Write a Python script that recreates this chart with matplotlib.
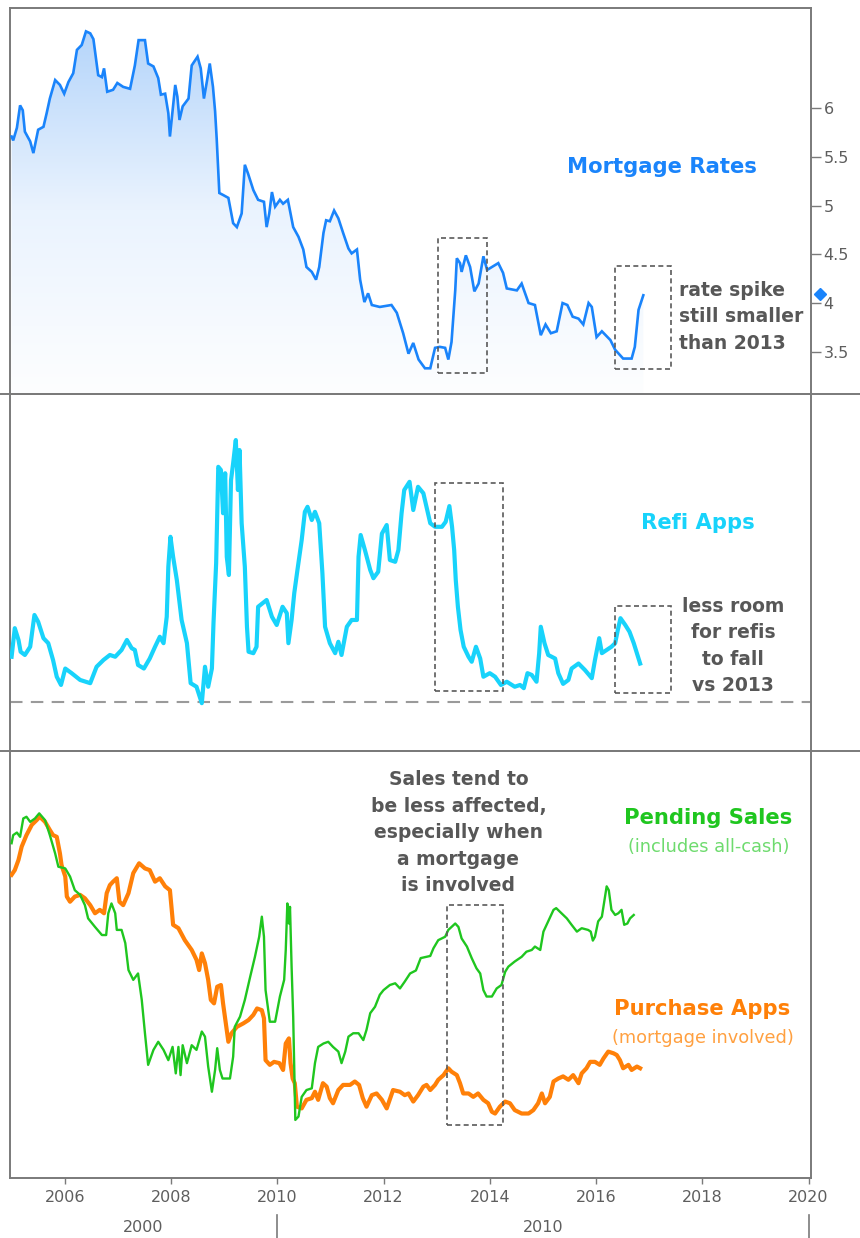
import numpy as np
import matplotlib
matplotlib.use("Agg")
import matplotlib.pyplot as plt
from matplotlib.colors import LinearSegmentedColormap
from matplotlib.patches import Rectangle
from matplotlib.lines import Line2D
import matplotlib.transforms as mtransforms

# ---------------- data ----------------
rate_years = [2005.00, 2005.03, 2005.10, 2005.16, 2005.21, 2005.25, 2005.35, 2005.41, 2005.50, 2005.60,
              2005.66, 2005.72, 2005.82, 2005.91, 2005.99, 2006.07, 2006.16, 2006.23, 2006.32, 2006.40,
              2006.48, 2006.54, 2006.63, 2006.70, 2006.74, 2006.80, 2006.91, 2006.99, 2007.10, 2007.23,
              2007.32, 2007.39, 2007.51, 2007.57, 2007.67, 2007.76, 2007.81, 2007.89, 2007.95, 2007.98,
              2008.03, 2008.08, 2008.12, 2008.16, 2008.22, 2008.33, 2008.39, 2008.50, 2008.56, 2008.62,
              2008.68, 2008.73, 2008.79, 2008.83, 2008.86, 2008.91, 2008.98, 2009.08, 2009.17, 2009.24,
              2009.33, 2009.39, 2009.45, 2009.55, 2009.64, 2009.75, 2009.80, 2009.85, 2009.90, 2009.96,
              2010.05, 2010.11, 2010.20, 2010.30, 2010.40, 2010.49, 2010.55, 2010.65, 2010.73, 2010.79,
              2010.87, 2010.92, 2010.99, 2011.07, 2011.15, 2011.24, 2011.34, 2011.40, 2011.50, 2011.56,
              2011.64, 2011.71, 2011.78, 2011.93, 2012.15, 2012.25, 2012.37, 2012.47, 2012.56, 2012.66,
              2012.78, 2012.88, 2012.97, 2013.06, 2013.16, 2013.22, 2013.28, 2013.31, 2013.35, 2013.38,
              2013.44, 2013.47, 2013.55, 2013.63, 2013.71, 2013.79, 2013.88, 2013.95, 2014.04, 2014.16,
              2014.25, 2014.32, 2014.51, 2014.60, 2014.73, 2014.85, 2014.96, 2015.05, 2015.15, 2015.26,
              2015.37, 2015.46, 2015.56, 2015.67, 2015.76, 2015.86, 2015.92, 2016.01, 2016.11, 2016.27,
              2016.36, 2016.51, 2016.67, 2016.73, 2016.80, 2016.89]
mortgage_rates = [5.71, 5.67, 5.80, 6.03, 5.98, 5.76, 5.66, 5.54, 5.78, 5.81,
                  5.95, 6.10, 6.29, 6.24, 6.15, 6.27, 6.36, 6.60, 6.65, 6.79,
                  6.77, 6.71, 6.34, 6.32, 6.41, 6.17, 6.19, 6.26, 6.22, 6.20,
                  6.44, 6.70, 6.70, 6.46, 6.43, 6.31, 6.14, 6.15, 5.95, 5.71,
                  5.98, 6.24, 6.12, 5.88, 6.02, 6.10, 6.44, 6.53, 6.41, 6.10,
                  6.29, 6.46, 6.22, 5.97, 5.69, 5.13, 5.11, 5.08, 4.82, 4.78,
                  4.92, 5.42, 5.33, 5.16, 5.06, 5.04, 4.78, 4.92, 5.14, 4.99,
                  5.06, 5.02, 5.06, 4.78, 4.68, 4.55, 4.37, 4.32, 4.24, 4.37,
                  4.72, 4.85, 4.84, 4.95, 4.87, 4.72, 4.56, 4.51, 4.55, 4.24,
                  4.01, 4.10, 3.98, 3.96, 3.98, 3.90, 3.69, 3.48, 3.59, 3.42,
                  3.33, 3.33, 3.54, 3.55, 3.54, 3.42, 3.60, 3.83, 4.13, 4.46,
                  4.41, 4.32, 4.49, 4.37, 4.12, 4.20, 4.48, 4.34, 4.37, 4.41,
                  4.31, 4.15, 4.13, 4.20, 4.00, 3.98, 3.67, 3.78, 3.69, 3.71,
                  4.00, 3.98, 3.86, 3.84, 3.78, 4.00, 3.96, 3.65, 3.71, 3.62,
                  3.52, 3.43, 3.43, 3.55, 3.93, 4.08]
latest_rate = 4.09
rate_ticks = [3.5, 4, 4.5, 5, 5.5, 6]
rate_tick_labels = ["3.5", "4", "4.5", "5", "5.5", "6"]

refi_years = [2005.00, 2005.06, 2005.13, 2005.17, 2005.25, 2005.35, 2005.43, 2005.50, 2005.60, 2005.69,
              2005.78, 2005.85, 2005.93, 2006.01, 2006.13, 2006.29, 2006.48, 2006.60, 2006.73, 2006.85,
              2006.95, 2007.07, 2007.17, 2007.26, 2007.32, 2007.38, 2007.49, 2007.60, 2007.70, 2007.79,
              2007.86, 2007.92, 2007.95, 2007.99, 2008.04, 2008.11, 2008.20, 2008.30, 2008.37, 2008.48,
              2008.58, 2008.64, 2008.70, 2008.77, 2008.80, 2008.85, 2008.89, 2008.94, 2008.98, 2009.02,
              2009.05, 2009.09, 2009.13, 2009.17, 2009.22, 2009.26, 2009.29, 2009.33, 2009.39, 2009.43,
              2009.46, 2009.55, 2009.61, 2009.64, 2009.80, 2009.90, 2009.99, 2010.10, 2010.18, 2010.21,
              2010.27, 2010.32, 2010.38, 2010.46, 2010.52, 2010.57, 2010.65, 2010.71, 2010.79, 2010.85,
              2010.90, 2010.99, 2011.09, 2011.15, 2011.21, 2011.31, 2011.40, 2011.50, 2011.53, 2011.57,
              2011.65, 2011.75, 2011.81, 2011.90, 2011.97, 2012.06, 2012.12, 2012.22, 2012.28, 2012.34,
              2012.39, 2012.49, 2012.56, 2012.65, 2012.75, 2012.88, 2012.97, 2013.10, 2013.17, 2013.24,
              2013.29, 2013.33, 2013.36, 2013.40, 2013.45, 2013.51, 2013.60, 2013.66, 2013.74, 2013.82,
              2013.88, 2014.00, 2014.10, 2014.21, 2014.32, 2014.47, 2014.57, 2014.64, 2014.71, 2014.79,
              2014.88, 2014.93, 2014.96, 2015.03, 2015.10, 2015.23, 2015.29, 2015.38, 2015.48, 2015.54,
              2015.67, 2015.79, 2015.92, 2015.98, 2016.06, 2016.11, 2016.20, 2016.29, 2016.36, 2016.41,
              2016.46, 2016.55, 2016.63, 2016.71, 2016.78, 2016.83]
refi_apps = [26.4, 34.4, 31.1, 27.8, 26.9, 29.2, 38.1, 36.2, 31.6, 30.2,
             25.5, 20.8, 18.5, 23.1, 21.8, 19.9, 19.0, 23.6, 25.5, 26.9,
             26.4, 28.3, 31.1, 28.8, 28.3, 24.1, 23.1, 25.9, 29.2, 32.0,
             30.2, 37.6, 51.6, 60.0, 54.4, 47.9, 36.7, 30.2, 19.0, 18.0,
             13.4, 23.6, 18.0, 23.1, 35.8, 52.6, 79.6, 78.7, 66.6, 77.8,
             54.4, 49.3, 75.9, 80.6, 87.1, 73.1, 84.3, 63.8, 51.6, 34.8,
             27.8, 27.4, 29.2, 40.4, 42.3, 37.6, 35.3, 40.4, 38.6, 30.2,
             36.7, 44.2, 50.7, 59.1, 67.0, 68.4, 64.7, 67.0, 63.8, 49.8,
             34.8, 30.2, 27.4, 30.6, 26.9, 34.8, 36.7, 36.7, 54.4, 60.5,
             56.3, 50.7, 48.4, 50.2, 60.9, 63.3, 53.5, 53.0, 56.3, 66.6,
             73.1, 75.4, 67.5, 74.0, 72.2, 63.8, 62.8, 62.8, 64.2, 68.6,
             62.8, 56.3, 47.9, 40.4, 33.9, 29.2, 26.4, 25.0, 29.2, 25.9,
             20.8, 21.8, 20.8, 18.5, 19.4, 18.0, 18.5, 17.6, 21.8, 21.3,
             19.4, 27.4, 34.8, 30.2, 26.9, 25.9, 21.8, 18.8, 19.9, 23.1,
             24.5, 22.7, 20.4, 25.5, 31.6, 27.4, 28.3, 29.2, 30.2, 33.9,
             37.2, 35.3, 33.4, 30.2, 26.9, 24.5]
refi_floor = 13.7

pending_years = [2005.00, 2005.03, 2005.10, 2005.16, 2005.22, 2005.28, 2005.35, 2005.44, 2005.52, 2005.63,
                 2005.72, 2005.82, 2005.88, 2006.01, 2006.10, 2006.19, 2006.29, 2006.38, 2006.44, 2006.57,
                 2006.70, 2006.78, 2006.82, 2006.88, 2006.95, 2006.98, 2007.07, 2007.14, 2007.20, 2007.29,
                 2007.38, 2007.45, 2007.51, 2007.57, 2007.67, 2007.76, 2007.86, 2007.95, 2008.03, 2008.09,
                 2008.14, 2008.18, 2008.22, 2008.30, 2008.39, 2008.48, 2008.58, 2008.64, 2008.70, 2008.77,
                 2008.83, 2008.87, 2008.92, 2008.97, 2009.11, 2009.17, 2009.20, 2009.30, 2009.39, 2009.49,
                 2009.58, 2009.66, 2009.71, 2009.75, 2009.78, 2009.86, 2009.96, 2010.05, 2010.13, 2010.16,
                 2010.19, 2010.22, 2010.24, 2010.27, 2010.30, 2010.32, 2010.34, 2010.40, 2010.46, 2010.55,
                 2010.65, 2010.71, 2010.77, 2010.87, 2010.96, 2011.05, 2011.15, 2011.21, 2011.28, 2011.34,
                 2011.43, 2011.53, 2011.62, 2011.68, 2011.75, 2011.84, 2011.93, 2012.00, 2012.12, 2012.22,
                 2012.31, 2012.40, 2012.50, 2012.61, 2012.70, 2012.88, 2012.94, 2013.03, 2013.16, 2013.22,
                 2013.28, 2013.35, 2013.41, 2013.47, 2013.57, 2013.66, 2013.75, 2013.82, 2013.88, 2013.94,
                 2014.04, 2014.13, 2014.22, 2014.29, 2014.35, 2014.47, 2014.60, 2014.69, 2014.79, 2014.85,
                 2014.95, 2015.01, 2015.10, 2015.20, 2015.25, 2015.35, 2015.45, 2015.54, 2015.64, 2015.73,
                 2015.85, 2015.90, 2015.94, 2015.98, 2016.04, 2016.11, 2016.15, 2016.20, 2016.24, 2016.29,
                 2016.36, 2016.42, 2016.48, 2016.53, 2016.59, 2016.64, 2016.71]
pending_sales = [78.4, 80.3, 80.9, 79.9, 84.2, 84.6, 83.4, 84.2, 85.4, 83.8,
                 80.3, 76.0, 72.9, 72.5, 70.6, 67.4, 66.3, 63.9, 60.8, 58.8,
                 56.9, 56.9, 62.0, 64.3, 62.0, 58.1, 58.1, 55.0, 48.7, 46.4,
                 47.9, 41.7, 33.9, 26.5, 30.0, 31.9, 30.0, 27.6, 30.7, 24.5,
                 30.7, 24.1, 31.1, 26.9, 31.1, 30.0, 34.3, 33.1, 26.1, 20.2,
                 25.3, 30.4, 25.3, 23.3, 23.3, 28.4, 35.4, 37.8, 41.7, 47.1,
                 51.8, 56.5, 61.2, 56.5, 44.0, 36.6, 36.6, 42.5, 46.4, 53.4,
                 64.3, 59.6, 63.5, 49.5, 37.8, 26.1, 13.6, 14.4, 19.0, 20.6,
                 21.0, 26.9, 30.7, 31.5, 31.9, 30.7, 29.6, 26.9, 29.6, 33.1,
                 33.9, 33.9, 32.3, 34.7, 38.6, 40.1, 42.9, 44.0, 45.2, 45.6,
                 44.4, 46.0, 47.9, 48.6, 51.5, 52.0, 53.8, 55.7, 56.5, 58.1,
                 58.8, 59.6, 58.8, 56.1, 54.2, 51.5, 49.1, 47.9, 44.0, 42.5,
                 42.5, 44.4, 45.2, 48.3, 49.5, 50.7, 51.8, 53.0, 53.4, 54.2,
                 53.4, 57.7, 60.1, 62.8, 63.2, 62.0, 60.8, 59.3, 57.7, 58.5,
                 58.1, 57.7, 55.6, 56.5, 60.1, 61.2, 64.3, 68.3, 67.4, 62.8,
                 61.6, 62.0, 62.8, 59.3, 59.6, 60.8, 61.6]

purchase_years = [2005.00, 2005.06, 2005.13, 2005.19, 2005.28, 2005.38, 2005.47, 2005.53, 2005.63, 2005.72,
                  2005.78, 2005.85, 2005.91, 2005.94, 2006.01, 2006.04, 2006.10, 2006.19, 2006.29, 2006.38,
                  2006.48, 2006.57, 2006.66, 2006.74, 2006.79, 2006.85, 2006.91, 2006.98, 2007.03, 2007.10,
                  2007.20, 2007.29, 2007.40, 2007.51, 2007.60, 2007.70, 2007.79, 2007.89, 2007.98, 2008.04,
                  2008.14, 2008.26, 2008.39, 2008.48, 2008.53, 2008.58, 2008.64, 2008.70, 2008.75, 2008.81,
                  2008.87, 2008.94, 2008.98, 2009.04, 2009.08, 2009.14, 2009.24, 2009.36, 2009.46, 2009.55,
                  2009.62, 2009.71, 2009.75, 2009.78, 2009.86, 2009.94, 2010.04, 2010.11, 2010.16, 2010.22,
                  2010.25, 2010.29, 2010.33, 2010.37, 2010.46, 2010.55, 2010.65, 2010.71, 2010.77, 2010.86,
                  2010.93, 2010.99, 2011.05, 2011.15, 2011.24, 2011.37, 2011.46, 2011.54, 2011.61, 2011.68,
                  2011.78, 2011.87, 2011.97, 2012.06, 2012.18, 2012.31, 2012.40, 2012.47, 2012.56, 2012.65,
                  2012.75, 2012.81, 2012.88, 2012.97, 2013.03, 2013.13, 2013.22, 2013.28, 2013.38, 2013.44,
                  2013.50, 2013.60, 2013.69, 2013.78, 2013.88, 2013.97, 2014.04, 2014.10, 2014.19, 2014.29,
                  2014.38, 2014.47, 2014.60, 2014.73, 2014.82, 2014.91, 2014.98, 2015.04, 2015.13, 2015.20,
                  2015.29, 2015.38, 2015.48, 2015.57, 2015.67, 2015.73, 2015.82, 2015.89, 2015.98, 2016.07,
                  2016.14, 2016.23, 2016.33, 2016.39, 2016.45, 2016.51, 2016.61, 2016.67, 2016.77, 2016.83]
purchase_apps = [71.0, 72.1, 74.5, 77.6, 80.3, 82.7, 83.8, 84.6, 83.4, 81.5,
                 80.3, 79.9, 76.0, 73.3, 70.6, 65.9, 64.7, 65.9, 66.3, 65.5,
                 63.9, 62.0, 62.8, 62.0, 66.7, 68.6, 69.4, 70.2, 64.7, 63.9,
                 66.7, 71.4, 73.7, 72.5, 72.1, 69.4, 70.2, 68.3, 67.4, 59.3,
                 58.5, 55.7, 53.4, 51.1, 48.7, 52.6, 50.3, 46.4, 41.7, 40.9,
                 44.8, 45.2, 40.9, 35.4, 31.9, 33.9, 35.4, 36.2, 37.0, 38.2,
                 39.7, 39.3, 37.4, 27.6, 26.5, 27.2, 26.9, 25.3, 31.5, 32.7,
                 26.9, 23.3, 22.2, 16.7, 16.3, 18.3, 18.7, 20.2, 18.3, 22.2,
                 21.4, 18.7, 17.5, 20.6, 21.8, 21.8, 22.6, 21.8, 18.7, 16.7,
                 19.4, 19.8, 18.3, 16.3, 20.6, 20.2, 19.4, 19.8, 17.9, 19.4,
                 21.4, 21.8, 20.6, 21.8, 23.0, 24.1, 25.7, 24.9, 24.1, 22.2,
                 19.8, 19.8, 19.0, 19.8, 18.3, 17.5, 15.5, 15.1, 16.7, 17.9,
                 17.5, 15.9, 15.1, 15.1, 15.9, 17.5, 19.8, 17.5, 19.0, 22.6,
                 23.3, 23.8, 23.0, 24.1, 22.2, 24.5, 25.7, 27.2, 27.2, 26.5,
                 28.0, 29.6, 29.2, 28.8, 27.6, 25.7, 26.5, 25.3, 26.1, 25.7]

x_ticks = [2006, 2008, 2010, 2012, 2014, 2016, 2018, 2020]
decade_labels = ["2000", "2010"]
decade_bounds = [2010, 2020]

# ---------------- style ----------------
BLUE = "#1a84fb"
CYAN = "#18d3fb"
GREEN = "#1fc61f"
ORANGE = "#ff8008"
NOTE = "#575757"
FRAME = "#7a7a7a"
TICKC = "#5e5e5e"
W, H = 860, 1238

plt.rcParams["font.family"] = ["DejaVu Sans"]
fig = plt.figure(figsize=(W / 100, H / 100), dpi=100)

def fig_rect(top_px, bot_px, left_px=10, right_px=811):
    return [left_px / W, 1 - bot_px / H, (right_px - left_px) / W, (bot_px - top_px) / H]

ax1 = fig.add_axes(fig_rect(8, 394))
ax2 = fig.add_axes(fig_rect(394, 751))
ax3 = fig.add_axes(fig_rect(751, 1178))

XLIM = (2004.97, 2020.046)
for ax in (ax1, ax2, ax3):
    ax.set_xlim(*XLIM)
    ax.set_facecolor("white")
    for s in ax.spines.values():
        s.set_color(FRAME)
        s.set_linewidth(1.4)
    ax.tick_params(left=False, labelleft=False, bottom=False, labelbottom=False)

# ---- top panel: mortgage rates ----
Y1 = (3.066, 7.03)
ax1.set_ylim(*Y1)
poly = ax1.fill_between(rate_years, mortgage_rates, Y1[0], color="none", lw=0)
grad = np.linspace(0, 1, 256).reshape(-1, 1)
cmap = LinearSegmentedColormap.from_list("g", ["#fdfeff", "#eaf3fe", "#b3d4fa"])
im = ax1.imshow(grad, extent=[XLIM[0], XLIM[1], Y1[0], 6.85], aspect="auto",
                cmap=cmap, origin="lower", zorder=1, interpolation="bilinear")
im.set_clip_path(poly.get_paths()[0], transform=ax1.transData)
ax1.set_ylim(*Y1)
ax1.set_xlim(*XLIM)
ax1.plot(rate_years, mortgage_rates, color=BLUE, lw=1.9, zorder=3, solid_joinstyle="miter")
ax1.yaxis.tick_right()
ax1.set_yticks(rate_ticks)
ax1.set_yticklabels(rate_tick_labels)
ax1.tick_params(axis="y", right=True, labelright=True, direction="out", length=7,
                width=1, color=FRAME, labelcolor=TICKC, labelsize=11.5, pad=2)
ax1.plot([XLIM[1] + 0.17], [latest_rate], marker="D", ms=6.5, color=BLUE,
         clip_on=False, zorder=5)

box_kw = dict(fill=False, ec="#5a5a5a", lw=1.2, ls=(0, (3, 2)), zorder=4)
ax1.add_patch(Rectangle((2013.03, 3.28), 0.91, 4.665 - 3.28, **box_kw))
ax1.add_patch(Rectangle((2016.36, 3.32), 1.05, 4.384 - 3.32, **box_kw))
ax1.text(2017.24, 5.40, "Mortgage Rates", color=BLUE, fontsize=15.2,
         fontweight="bold", ha="center", va="center")
ax1.text(2017.56, 3.86, "rate spike\nstill smaller\nthan 2013", color=NOTE,
         fontsize=13.5, fontweight="bold", ha="left", va="center", linespacing=1.5)

# ---- middle panel: refi apps ----
ax2.set_ylim(0, 100)
ax2.axhline(refi_floor, color="#9a9a9a", lw=1.5, ls=(0, (6, 4)), zorder=2)
ax2.plot(refi_years, refi_apps, color=CYAN, lw=3.0, zorder=3)
ax2.add_patch(Rectangle((2012.96, 16.9), 1.29, 75.2 - 16.9, **box_kw))
ax2.add_patch(Rectangle((2016.36, 16.3), 1.05, 40.7 - 16.3, **box_kw))
ax2.text(2017.92, 63.8, "Refi Apps", color=CYAN, fontsize=15.2,
         fontweight="bold", ha="center", va="center")
ax2.text(2018.58, 29.4, "less room\nfor refis\nto fall\nvs 2013", color=NOTE,
         fontsize=13.5, fontweight="bold", ha="center", va="center", linespacing=1.5)

# ---- bottom panel: pending sales & purchase apps ----
ax3.set_ylim(0, 100)
ax3.plot(purchase_years, purchase_apps, color=ORANGE, lw=3.0, zorder=3)
ax3.plot(pending_years, pending_sales, color=GREEN, lw=1.7, zorder=4)
ax3.add_patch(Rectangle((2013.20, 12.4), 1.05, 63.9 - 12.4, **box_kw))
ax3.text(2013.41, 80.8, "Sales tend to\nbe less affected,\nespecially when\na mortgage\nis involved",
         color=NOTE, fontsize=13.5, fontweight="bold", ha="center", va="center", linespacing=1.5)
ax3.text(2018.11, 84.4, "Pending Sales", color=GREEN, fontsize=15.2,
         fontweight="bold", ha="center", va="center")
ax3.text(2018.13, 77.6, "(includes all-cash)", color="#6edb6e", fontsize=12.8,
         ha="center", va="center")
ax3.text(2017.99, 39.5, "Purchase Apps", color=ORANGE, fontsize=15.2,
         fontweight="bold", ha="center", va="center")
ax3.text(2018.01, 32.9, "(mortgage involved)", color="#ffa040", fontsize=12.8,
         ha="center", va="center")

ax3.set_xticks(x_ticks)
ax3.set_xticklabels([str(t) for t in x_ticks])
ax3.tick_params(axis="x", bottom=True, labelbottom=True, direction="out", length=4,
                width=1, color=FRAME, labelcolor=TICKC, labelsize=11.5, pad=5)

# decade labels below the year ticks
bt = mtransforms.blended_transform_factory(ax3.transData, fig.transFigure)
starts = [XLIM[0]] + decade_bounds[:-1]
for lab, a, b in zip(decade_labels, starts, decade_bounds):
    ax3.text((a + b) / 2, 1 - 1227 / H, lab, transform=bt, ha="center", va="center",
             color=TICKC, fontsize=11.5, clip_on=False)
for b in decade_bounds:
    fig.add_artist(Line2D([b, b], [0, 1 - 1215 / H], transform=bt, color=FRAME, lw=1.2))

# full-width separators between panels
for ypx in (394, 751):
    fig.add_artist(Line2D([0, 1], [1 - ypx / H, 1 - ypx / H], transform=fig.transFigure,
                          color=FRAME, lw=1.4))

fig.savefig("out.png", dpi=100, facecolor="white")
